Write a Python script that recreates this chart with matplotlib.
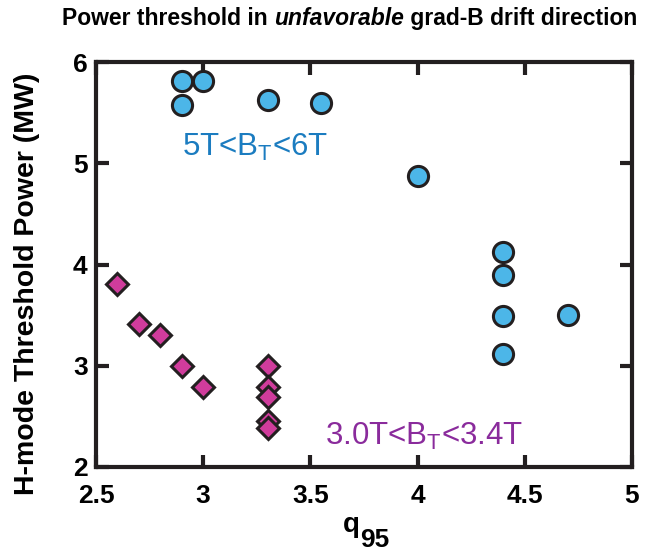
import matplotlib
matplotlib.use("Agg")
import matplotlib.pyplot as plt

plt.rcParams['font.family'] = ['Liberation Sans', 'DejaVu Sans']
plt.rcParams['mathtext.fontset'] = 'custom'
plt.rcParams['mathtext.rm'] = 'Liberation Sans'
plt.rcParams['mathtext.bf'] = 'Liberation Sans:bold'

# high field (5T < BT < 6T)
q95_high = [2.9, 2.9, 3.0, 3.3, 3.55, 4.0, 4.4, 4.4, 4.4, 4.4, 4.7]
pth_high = [5.81, 5.58, 5.81, 5.62, 5.60, 4.87, 4.12, 3.90, 3.49, 3.12, 3.50]

# low field (3.0T < BT < 3.4T)
q95_low = [2.6, 2.7, 2.8, 2.9, 3.0, 3.3, 3.3, 3.3, 3.3, 3.3]
pth_low = [3.81, 3.41, 3.30, 3.00, 2.79, 3.00, 2.79, 2.69, 2.45, 2.39]

xticks = [2.5, 3, 3.5, 4, 4.5, 5]
xticklabels = ['2.5', '3', '3.5', '4', '4.5', '5']
yticks = [2, 3, 4, 5, 6]

W, H = 663, 558
fig = plt.figure(figsize=(W / 100, H / 100), dpi=100)
ax = fig.add_axes([96 / W, 1 - 467 / H, 536 / W, 405 / H])

ax.plot(q95_low, pth_low, linestyle='none', marker='D', markersize=11.5,
        markerfacecolor='#d03c9c', markeredgecolor='#231f20', markeredgewidth=2.2)
ax.plot(q95_high, pth_high, linestyle='none', marker='o', markersize=14.5,
        markerfacecolor='#4cb6e8', markeredgecolor='#231f20', markeredgewidth=2.2)

ax.set_xlim(2.5, 5)
ax.set_ylim(2, 6)
ax.set_xticks(xticks)
ax.set_xticklabels(xticklabels)
ax.set_yticks(yticks)
ax.tick_params(direction='in', length=9, width=3, top=True, right=True,
               labelsize=19, color='#231f20')
ax.tick_params(axis='x', pad=12)
ax.tick_params(axis='y', pad=6)
for lab in ax.get_xticklabels() + ax.get_yticklabels():
    lab.set_fontweight('bold')
for s in ax.spines.values():
    s.set_linewidth(3)
    s.set_color('#231f20')

# y label: centred at y~283 px, right edge at x~40 px
ax.set_ylabel('H-mode Threshold Power (MW)', fontsize=20.5, fontweight='bold')
ax.yaxis.set_label_coords((40 - 96) / 536, (467 - 283.5) / 405)

# x label q_95 drawn in two pieces (subscript nearly full size)
fig.text(343 / W, 1 - 532 / H, 'q', fontsize=20, fontweight='bold', va='baseline')
fig.text(360 / W, 1 - 547 / H, '95', fontsize=19, fontweight='bold', va='baseline')

ax.text(3.24, 5.07, r'5T<B$_\mathrm{T}$<6T', color='#1b7cc0', fontsize=22.5,
        ha='center', va='baseline')
ax.text(4.03, 2.22, r'3.0T<B$_\mathrm{T}$<3.4T', color='#8a2b9c', fontsize=22.5,
        ha='center', va='baseline')

# title with italic word
fig.canvas.draw()
r = fig.canvas.get_renderer()
parts = [('Power threshold in ', 'normal'), ('unfavorable', 'italic'),
         (' grad-B drift direction', 'normal')]
x = 62 / W
for txt, st in parts:
    t = fig.text(x, 1 - 25 / H, txt, fontsize=16.5, fontweight='bold',
                 fontstyle=st, va='baseline', ha='left')
    bb = t.get_window_extent(renderer=r)
    x += bb.width / fig.bbox.width

fig.savefig('out.png', dpi=100)
